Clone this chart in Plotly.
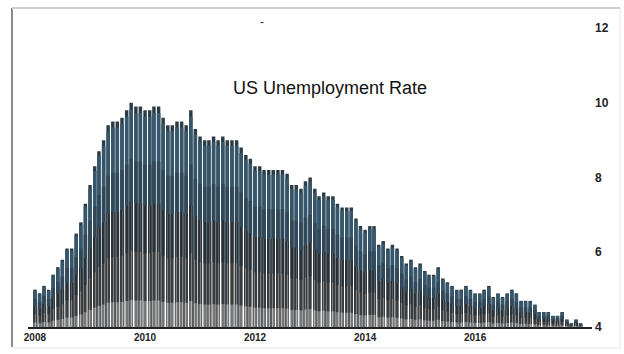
import plotly.graph_objects as go
import pandas as pd

# Monthly US unemployment rate (%), Jan 2008 - Dec 2017
rate_2008 = [5.0, 4.9, 5.1, 5.0, 5.4, 5.6, 5.8, 6.1, 6.1, 6.5, 6.8, 7.3]
rate_2009 = [7.8, 8.3, 8.7, 9.0, 9.4, 9.5, 9.5, 9.6, 9.8, 10.0, 9.9, 9.9]
rate_2010 = [9.8, 9.8, 9.9, 9.9, 9.6, 9.4, 9.4, 9.5, 9.5, 9.4, 9.8, 9.3]
rate_2011 = [9.1, 9.0, 9.0, 9.1, 9.0, 9.1, 9.0, 9.0, 9.0, 8.8, 8.6, 8.5]
rate_2012 = [8.3, 8.3, 8.2, 8.2, 8.2, 8.2, 8.2, 8.1, 7.8, 7.8, 7.7, 7.9]
rate_2013 = [8.0, 7.7, 7.5, 7.6, 7.5, 7.5, 7.3, 7.2, 7.2, 7.2, 6.9, 6.7]
rate_2014 = [6.6, 6.7, 6.7, 6.2, 6.3, 6.1, 6.2, 6.1, 5.9, 5.7, 5.8, 5.6]
rate_2015 = [5.7, 5.5, 5.4, 5.4, 5.6, 5.3, 5.2, 5.1, 5.0, 5.0, 5.1, 5.0]
rate_2016 = [4.9, 4.9, 5.0, 5.1, 4.8, 4.9, 4.8, 4.9, 5.0, 4.9, 4.7, 4.7]
rate_2017 = [4.7, 4.6, 4.4, 4.4, 4.4, 4.3, 4.3, 4.4, 4.2, 4.1, 4.2, 4.1]

rates = (rate_2008 + rate_2009 + rate_2010 + rate_2011 + rate_2012 +
         rate_2013 + rate_2014 + rate_2015 + rate_2016 + rate_2017)
months = pd.date_range("2008-01-01", periods=len(rates), freq="MS")

y_ticks = [4, 6, 8, 10, 12]
x_ticks = ["2008-01-01", "2010-01-01", "2012-01-01", "2014-01-01", "2016-01-01"]
x_tick_labels = ["2008", "2010", "2012", "2014", "2016"]
title_text = "US Unemployment Rate"
axis_floor = 4

# shading layers (fraction of each bar above the axis floor, colour, stripe colour)
shade_layers = [
    (1.00, "#2c3c46", None),
    (0.97, "#36566b", None),
    (0.75, "#304859", None),
    (0.56, "#2a3136", "#8a8a8a"),
    (0.34, "#3c3c3c", "#c8c8c8"),
    (0.12, "#777777", "#f2f2f2"),
]

fig = go.Figure()
for frac, col, stripe in shade_layers:
    heights = [axis_floor + (v - axis_floor) * frac for v in rates]
    marker = dict(color=col, line=dict(width=0))
    if stripe:
        marker["pattern"] = dict(shape="|", fgcolor=stripe, size=3, solidity=0.35)
    fig.add_trace(go.Bar(x=months, y=heights, marker=marker,
                         hoverinfo="x+y" if frac == 1.0 else "skip"))

fig.update_layout(
    width=624, height=354,
    margin=dict(l=28, r=32, t=28, b=27),
    paper_bgcolor="white", plot_bgcolor="white",
    barmode="overlay", bargap=0.18,
    showlegend=False,
    font=dict(family="Liberation Sans, Arial, sans-serif", color="#111"),
    xaxis=dict(
        type="date",
        range=["2007-11-16", "2018-02-15"],
        tickvals=x_ticks, ticktext=x_tick_labels,
        tickfont=dict(family="Liberation Sans Narrow, Liberation Sans, Arial", size=10,
                      color="#222", weight="bold"),
        showgrid=False, showline=True, linecolor="#222", linewidth=2,
        ticks="", zeroline=False,
    ),
    yaxis=dict(
        range=[4, 12], side="right",
        tickvals=y_ticks,
        tickfont=dict(family="Liberation Sans Narrow, Liberation Sans, Arial", size=12,
                      color="#222", weight="bold"),
        showgrid=False, showline=False, zeroline=False, ticks="",
        ticklabelstandoff=2,
    ),
    annotations=[
        dict(text=title_text, xref="paper", yref="paper", x=0.5355, y=0.84,
             showarrow=False, font=dict(size=18, color="#111",
                                        family="Liberation Sans, Arial, sans-serif")),
        dict(text="-", xref="paper", yref="paper", x=(262 - 28) / 564, y=1.05,
             showarrow=False, font=dict(size=12, color="#333")),
    ],
    shapes=[
        dict(type="line", xref="paper", yref="paper", x0=-0.0284, x1=-0.0284,
             y0=-0.067, y1=1.067, line=dict(color="#8a8a8a", width=2)),
        dict(type="line", xref="paper", yref="paper", x0=-0.0284, x1=1.05,
             y0=1.067, y1=1.067, line=dict(color="#cfcfcf", width=2)),
        dict(type="line", xref="paper", yref="paper", x0=-0.0284, x1=1.05,
             y0=-0.07, y1=-0.07, line=dict(color="#e4e4e4", width=1)),
        dict(type="line", xref="paper", yref="paper", x0=1.05, x1=1.05,
             y0=-0.07, y1=1.067, line=dict(color="#e8e8e8", width=1)),
    ],
)

fig.write_html("out.html")
